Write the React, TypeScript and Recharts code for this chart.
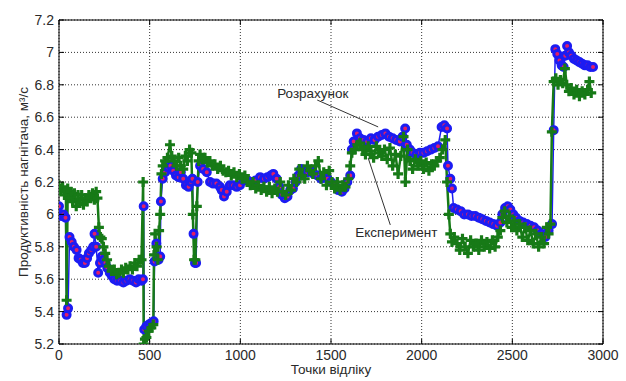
import { LineChart, Line, XAxis, YAxis, CartesianGrid, ReferenceLine, ReferenceDot } from 'recharts'

// calculated series (Розрахунок)
const calcX = [
  0, 12, 24, 36, 42, 50, 58, 70, 82, 97, 108, 120, 132, 143, 155, 165, 178, 189, 196, 205,
  216, 226, 236, 246, 256, 266, 280, 292, 305, 320, 338, 355, 372, 390, 408, 425, 440, 455, 463, 467,
  470, 482, 496, 509, 522, 527, 537, 549, 558, 562, 572, 585, 600, 615, 630, 645, 660, 672, 685, 700,
  715, 728, 736, 742, 750, 756, 765, 778, 795, 815, 833, 850, 868, 888, 897, 910, 925, 942, 960, 980,
  998, 1017, 1040, 1063, 1085, 1109, 1130, 1150, 1168, 1182, 1200, 1215, 1230, 1245, 1260, 1275, 1290, 1305, 1320, 1335,
  1350, 1370, 1390, 1405, 1425, 1445, 1465, 1480, 1500, 1520, 1540, 1560, 1575, 1590, 1606, 1615, 1625, 1643, 1660, 1680,
  1700, 1720, 1740, 1760, 1780, 1800, 1820, 1840, 1860, 1880, 1895, 1909, 1918, 1935, 1950, 1970, 1990, 2010, 2030, 2050,
  2070, 2090, 2110, 2125, 2140, 2145, 2158, 2167, 2176, 2195, 2215, 2235, 2255, 2275, 2295, 2315, 2335, 2355, 2375, 2395,
  2415, 2434, 2445, 2460, 2475, 2489, 2505, 2520, 2540, 2560, 2580, 2600, 2620, 2640, 2660, 2682, 2700, 2719, 2728, 2737,
  2748, 2760, 2772, 2783, 2792, 2802, 2812, 2825, 2840, 2855, 2870, 2885, 2900, 2915, 2930, 2945,
]
const calcY = [
  6.05, 5.99, 6.0, 5.98, 5.38, 5.42, 5.86, 5.83, 5.8, 5.78, 5.73, 5.72, 5.7, 5.7, 5.73, 5.76, 5.78, 5.8, 5.88, 5.8,
  5.64, 5.7, 5.74, 5.72, 5.7, 5.67, 5.64, 5.62, 5.6, 5.59, 5.59, 5.58, 5.59, 5.6, 5.59, 5.58, 5.6, 5.59, 5.6, 6.05,
  5.29, 5.31, 5.32, 5.33, 5.34, 5.71, 5.82, 5.72, 5.74, 6.08, 6.22, 6.26, 6.29, 6.3, 6.27, 6.24, 6.23, 6.26, 6.22, 6.18,
  6.17, 6.2, 6.22, 5.88, 5.7, 5.7, 6.2, 6.3, 6.28, 6.26, 6.2, 6.19, 6.19, 6.17, 6.15, 6.11, 6.14, 6.18, 6.18, 6.17,
  6.18, 6.21, 6.21, 6.2, 6.21, 6.23, 6.22, 6.23, 6.24, 6.25, 6.22, 6.17, 6.12, 6.1, 6.11, 6.15, 6.16, 6.2, 6.24, 6.28,
  6.27, 6.26, 6.27, 6.25, 6.24, 6.22, 6.23, 6.22, 6.2, 6.18, 6.15, 6.14, 6.16, 6.2, 6.24, 6.4, 6.45, 6.5, 6.47, 6.46,
  6.45, 6.47, 6.46, 6.48, 6.49, 6.5, 6.48, 6.47, 6.46, 6.45, 6.48, 6.53, 6.43, 6.4, 6.38, 6.37, 6.38, 6.38, 6.39, 6.4,
  6.41, 6.42, 6.54, 6.55, 6.53, 6.3, 6.22, 6.16, 6.04, 6.03, 6.02, 6.0, 6.0, 5.99, 5.99, 5.98, 5.97, 5.96, 5.95, 5.94,
  5.93, 5.95, 6.0, 6.04, 6.05, 6.03, 6.0, 5.98, 5.96, 5.95, 5.94, 5.93, 5.92, 5.9, 5.88, 5.86, 5.9, 5.94, 6.52, 7.02,
  6.99, 6.95, 6.92, 6.91, 6.98, 7.04, 7.0, 6.98, 6.96, 6.95, 6.94, 6.93, 6.92, 6.92, 6.91, 6.91,
]

// measured series (Експеримент)
const expX = [
  0, 10, 20, 30, 38, 42, 48, 58, 66, 75, 85, 95, 105, 115, 125, 135, 145, 155, 165, 175,
  185, 195, 205, 212, 220, 228, 236, 245, 255, 265, 275, 290, 305, 318, 330, 345, 355, 368, 380, 392,
  405, 418, 430, 442, 455, 464, 467, 474, 482, 495, 509, 520, 524, 530, 538, 545, 552, 558, 565, 572,
  585, 598, 612, 622, 635, 648, 660, 672, 685, 697, 708, 720, 730, 738, 745, 752, 760, 770, 778, 790,
  805, 818, 832, 845, 860, 875, 890, 905, 920, 935, 950, 965, 980, 995, 1010, 1025, 1040, 1055, 1070, 1085,
  1100, 1115, 1130, 1145, 1160, 1175, 1190, 1205, 1220, 1235, 1250, 1265, 1280, 1295, 1310, 1325, 1340, 1355, 1370, 1385,
  1400, 1415, 1430, 1445, 1460, 1475, 1490, 1505, 1520, 1535, 1550, 1565, 1580, 1595, 1606, 1615, 1630, 1645, 1660, 1675,
  1690, 1705, 1720, 1735, 1750, 1765, 1780, 1795, 1810, 1825, 1840, 1855, 1870, 1885, 1900, 1910, 1922, 1935, 1950, 1965,
  1980, 1995, 2010, 2025, 2040, 2055, 2070, 2085, 2100, 2115, 2130, 2140, 2150, 2158, 2167, 2180, 2195, 2210, 2225, 2240,
  2255, 2270, 2285, 2300, 2315, 2330, 2345, 2360, 2375, 2390, 2405, 2420, 2434, 2445, 2458, 2470, 2483, 2496, 2510, 2525,
  2540, 2555, 2570, 2585, 2600, 2615, 2630, 2645, 2660, 2675, 2690, 2700, 2710, 2718, 2728, 2740, 2752, 2765, 2778, 2790,
  2800, 2812, 2825, 2840, 2855, 2870, 2885, 2900, 2915, 2925, 2935,
]
const expY = [
  6.18, 6.15, 6.17, 6.12, 6.14, 5.47, 6.16, 6.1, 6.14, 6.08, 6.13, 6.05, 6.12, 6.07, 6.12, 6.06, 6.1, 6.08, 6.12, 6.1,
  6.13, 6.09, 6.14, 6.1, 5.92, 5.86, 5.85, 5.8, 5.76, 5.72, 5.68, 5.65, 5.66, 5.63, 5.64, 5.66, 5.64, 5.67, 5.66, 5.68,
  5.66, 5.7, 5.68, 5.72, 5.72, 6.2, 5.2, 5.23, 5.24, 5.28, 5.3, 5.32, 5.75, 5.88, 5.8, 5.72, 5.9, 6.0, 6.25, 6.3,
  6.33, 6.35, 6.43, 6.36, 6.33, 6.3, 6.35, 6.3, 6.28, 6.36, 6.33, 6.4, 6.38, 6.0, 5.72, 5.72, 6.05, 6.33, 6.37, 6.34,
  6.35, 6.32, 6.33, 6.3, 6.31, 6.28, 6.3, 6.27, 6.26, 6.27, 6.24, 6.26, 6.23, 6.25, 6.22, 6.24, 6.2, 6.18, 6.2, 6.16,
  6.18, 6.15, 6.17, 6.14, 6.17, 6.13, 6.16, 6.14, 6.2, 6.14, 6.12, 6.18, 6.15, 6.22, 6.2, 6.28, 6.24, 6.22, 6.3, 6.27,
  6.25, 6.3, 6.33, 6.22, 6.26, 6.18, 6.27, 6.2, 6.16, 6.2, 6.15, 6.18, 6.17, 6.22, 6.3, 6.38, 6.4, 6.43, 6.44, 6.4,
  6.37, 6.42, 6.39, 6.35, 6.42, 6.38, 6.36, 6.4, 6.34, 6.41, 6.3, 6.37, 6.25, 6.36, 6.48, 6.2, 6.4, 6.33, 6.28, 6.34,
  6.3, 6.33, 6.28, 6.32, 6.27, 6.31, 6.3, 6.33, 6.35, 6.4, 6.46, 6.2, 6.0, 5.88, 5.83, 5.86, 5.82, 5.78, 5.85, 5.8,
  5.76, 5.84, 5.8, 5.82, 5.78, 5.84, 5.8, 5.83, 5.79, 5.84, 5.8, 5.86, 5.9, 5.98, 6.02, 5.95, 5.99, 5.92, 5.96, 5.9,
  5.94, 5.86, 5.92, 5.84, 5.9, 5.82, 5.88, 5.8, 5.86, 5.82, 5.92, 5.88, 5.94, 6.51, 6.82, 6.84, 6.8, 6.83, 6.81, 6.9,
  6.8, 6.76, 6.78, 6.74, 6.77, 6.73, 6.76, 6.74, 6.77, 6.82, 6.75,
]

const xTicks = [0, 500, 1000, 1500, 2000, 2500, 3000]
const yTicks = [5.2, 5.4, 5.6, 5.8, 6, 6.2, 6.4, 6.6, 6.8, 7, 7.2]

const calcName = 'Розрахунок'
const expName = 'Експеримент'
const xLabel = 'Точки відліку'
const yLabel = 'Продуктивність нагнітача, м³/с'

// where the callout texts and their pointer lines sit, in data units
const calcNote = { x: 1203, y: 6.72, from: { x: 1424, y: 6.706 }, to: { x: 1760, y: 6.54 } }
const expNote = { x: 1634, y: 5.86, from: { x: 1705, y: 6.348 }, to: { x: 1827, y: 5.935 } }

const W = 626
const H = 381
const LEFT = 59
const TOP = 20
const RIGHT = 603
const BOTTOM = 344
const FONT = 'Arial, "Liberation Sans", sans-serif'
const TEXT = '#2a2a2a'
const BLUE = '#1c1cf2'
const GREEN = '#177a17'

const calcData = calcX.map((x, i) => ({ x, y: calcY[i] }))
const expData = expX.map((x, i) => ({ x, y: expY[i] }))

const fmt = (v: number) => String(Number(v.toFixed(1)))

const YTick = ({ y, payload }: any) => (
  <g>
    <line x1={LEFT} x2={LEFT + 5} y1={y} y2={y} stroke="#000" />
    <line x1={RIGHT - 5} x2={RIGHT} y1={y} y2={y} stroke="#000" />
    <text x={LEFT - 5} y={y} dy="0.35em" textAnchor="end" fontSize={14} fontFamily={FONT} fill={TEXT}>
      {fmt(payload.value)}
    </text>
  </g>
)

const XTick = ({ x, payload }: any) => (
  <g>
    <line x1={x} x2={x} y1={BOTTOM} y2={BOTTOM - 5} stroke="#000" />
    <line x1={x} x2={x} y1={TOP} y2={TOP + 5} stroke="#000" />
    <text x={x} y={BOTTOM + 16} textAnchor="middle" fontSize={14} fontFamily={FONT} fill={TEXT}>
      {payload.value}
    </text>
  </g>
)

const CalcDot = ({ cx, cy, index }: any) => (
  <circle key={`c-${index}`} cx={cx} cy={cy} r={3.5} fill="#e01f66" stroke={BLUE} strokeWidth={3} />
)

const ExpDot = ({ cx, cy, index }: any) => (
  <path
    key={`e-${index}`}
    d={`M${cx - 5},${cy}H${cx + 5}M${cx},${cy - 5}V${cy + 5}`}
    stroke={GREEN}
    strokeWidth={3.2}
  />
)

const noteText = (text: string) => ({ cx, cy }: any) => (
  <text x={cx} y={cy} fontSize={13.5} fontFamily={FONT} fill={TEXT}>
    {text}
  </text>
)

export default function App() {
  return (
    <div style={{ position: 'absolute', left: 0, top: 0, width: W, height: H, background: '#fff' }}>
      <LineChart width={W} height={H} margin={{ top: TOP, right: W - RIGHT, bottom: 0, left: 0 }}>
        <CartesianGrid strokeDasharray="1 2" stroke="#000" strokeOpacity={0.8} />
        <XAxis
          dataKey="x"
          type="number"
          domain={[0, 3000]}
          ticks={xTicks}
          allowDataOverflow
          height={H - BOTTOM}
          stroke="#000"
          tickLine={false}
          tick={<XTick />}
          label={{
            content: () => (
              <text x={(LEFT + RIGHT) / 2} y={H - 7} textAnchor="middle" fontSize={13.5} fontFamily={FONT} fill={TEXT}>
                {xLabel}
              </text>
            ),
          }}
        />
        <YAxis
          type="number"
          domain={[5.2, 7.2]}
          ticks={yTicks}
          allowDataOverflow
          width={LEFT}
          stroke="#000"
          tickLine={false}
          tick={<YTick />}
          label={{
            content: () => (
              <text
                x={27.5}
                y={(TOP + BOTTOM) / 2}
                transform={`rotate(-90, 27.5, ${(TOP + BOTTOM) / 2})`}
                textAnchor="middle"
                fontSize={13.5}
                fontFamily={FONT}
                fill={TEXT}
              >
                {yLabel}
              </text>
            ),
          }}
        />
        <ReferenceLine y={7.2} stroke="#000" />
        <ReferenceLine x={3000} stroke="#000" />
        <Line
          data={calcData}
          dataKey="y"
          name={calcName}
          stroke={BLUE}
          strokeWidth={1.5}
          dot={<CalcDot />}
          activeDot={false}
          isAnimationActive={false}
        />
        <Line
          data={expData}
          dataKey="y"
          name={expName}
          stroke={GREEN}
          strokeWidth={2.5}
          dot={<ExpDot />}
          activeDot={false}
          isAnimationActive={false}
        />
        <ReferenceLine segment={[calcNote.from, calcNote.to]} stroke="#333" />
        <ReferenceLine segment={[expNote.from, expNote.to]} stroke="#333" />
        <ReferenceDot x={calcNote.x} y={calcNote.y} r={0} shape={noteText(calcName)} />
        <ReferenceDot x={expNote.x} y={expNote.y} r={0} shape={noteText(expName)} />
      </LineChart>
    </div>
  )
}
